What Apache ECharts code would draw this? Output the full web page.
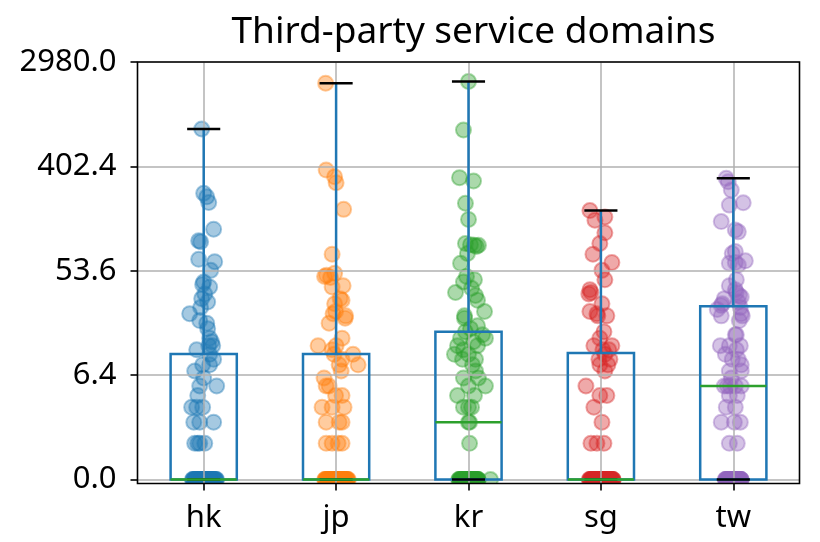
<!DOCTYPE html>
<html>
<head>
<meta charset="utf-8">
<script src="https://cdn.jsdelivr.net/npm/echarts@6/dist/echarts.min.js"></script>
<style>
  html, body { margin: 0; padding: 0; background: #ffffff; }
  #chart { width: 820px; height: 542px; }
</style>
</head>
<body>
<div id="chart"></div>
<script>
// Regions on the x axis
const categories = ['hk', 'jp', 'kr', 'sg', 'tw'];

// Per-site domain counts with their horizontal jitter: [count, jitter]
const hkPoints = [
  [825,-0.015],[240,0.000],[224,0.023],[201,0.038],[120,0.075],[96,-0.038],[94,-0.023],
  [67,-0.038],[64,0.083],[54,0.053],[43,0.000],[41,-0.008],[39,0.045],[34,0.008],
  [31,-0.015],[29,0.030],[26,-0.023],[23,-0.106],[20,-0.030],[19,0.023],[17,0.030],
  [14,0.045],[13,0.060],[12,0.038],[12,0.068],[11,-0.053],[10,0.045],[9,0.075],
  [8,-0.008],[8,0.045],[7,-0.068],[6,0.000],[5,0.098],[5,-0.030],[4,-0.045],
  [3,-0.091],[3,-0.053],[3,-0.008],[2,-0.075],[2,-0.030],[2,0.075],
  [1,-0.068],[1,-0.045],[1,-0.030],[1,0.008]
];
const hkZeros = [
  -0.081,0.012,0.064,-0.027,0.035,-0.058,0.090,-0.004,0.047,-0.072,
  0.021,-0.040,0.079,0.003,-0.015,0.056,-0.063,0.030,0.097,-0.033,
  0.008,-0.050,0.071,0.043,-0.021,0.017,-0.085,0.061,-0.009,0.038,
  0.026,-0.046,0.084,-0.068,0.051,0.005,-0.030,0.069,0.014,-0.055,
  0.093,-0.012,0.034,-0.077,0.058,0.022,-0.036,0.046,0.002,-0.061,
  0.075,0.029,-0.019,0.066,0.040
];

const jpPoints = [
  [1985,-0.079],[375,-0.075],[330,-0.011],[294,0.000],[176,0.057],[74,-0.030],
  [51,-0.011],[49,-0.072],[48,-0.087],[47,-0.042],[40,0.053],[39,-0.030],[31,0.030],
  [30,0.045],[28,-0.011],[24,-0.004],[23,-0.023],[22,0.072],[21,0.068],[19,-0.053],
  [14,0.045],[12,-0.136],[12,0.000],[11,-0.030],[10,0.128],[10,-0.015],[9,0.045],
  [8,0.166],[8,0.023],[7,0.038],[6,-0.091],[5,-0.053],[5,-0.075],[4,-0.004],[4,0.045],
  [3,-0.106],[3,-0.030],[3,0.060],[2,-0.075],[2,0.023],[2,0.045],
  [1,-0.075],[1,-0.030],[1,0.015],[1,0.045]
];
const jpZeros = [
  0.018,-0.066,0.049,-0.012,0.083,-0.041,0.027,-0.079,0.060,0.004,
  -0.028,0.071,-0.055,0.036,-0.006,0.092,-0.034,0.013,-0.070,0.052,
  0.024,-0.047,0.078,-0.019,0.041,-0.086,0.009,0.064,-0.038,0.031,
  -0.060,0.087,-0.002,0.045,-0.024,0.068,-0.074,0.016,0.055,-0.051,
  0.035,-0.014,0.081,-0.063,0.021,0.006,-0.043,0.073,-0.030,0.048,
  -0.082,0.058,0.011,-0.009,0.039
];

const krPoints = [
  [2050,0.000],[809,-0.038],[324,-0.068],[304,0.038],[198,-0.023],[145,0.000],
  [91,-0.023],[89,0.015],[88,0.045],[88,0.075],[86,0.060],[75,-0.008],[62,-0.060],
  [48,-0.015],[45,0.045],[43,-0.038],[38,0.023],[35,-0.098],[33,0.053],[30,0.068],
  [24,0.121],[22,-0.030],[21,-0.030],[18,0.068],[17,0.015],[16,-0.023],[15,0.106],
  [14,-0.060],[14,0.128],[13,0.038],[12,-0.083],[12,0.068],[11,-0.038],[10,-0.106],
  [10,0.000],[9,0.053],[9,-0.045],[8,0.030],[7,0.053],[6,-0.038],[6,0.075],[5,0.000],
  [5,0.128],[4,-0.083],[4,0.045],[3,-0.038],[3,0.023],[3,0.000],[2,0.000],[2,0.008],
  [1,0.008]
];
const krZeros = [
  -0.060,0.022,0.051,-0.031,0.008,-0.074,0.066,-0.013,0.037,-0.049,
  0.015,0.072,-0.024,0.044,-0.066,0.003,0.058,-0.040,0.028,-0.008,
  0.062,-0.055,0.019,-0.035,0.047,0.011,-0.070,0.034,-0.018,0.069,
  -0.045,0.025,0.055,-0.003,-0.062,0.040,0.014,-0.028,0.073,-0.052,
  0.030,-0.010,0.059,-0.038,0.006,0.048,-0.022,0.166
];

const sgPoints = [
  [172,-0.083],[152,0.030],[143,-0.045],[112,0.030],[91,-0.008],[74,-0.060],
  [63,0.083],[54,0.008],[45,0.030],[37,-0.083],[35,-0.075],[34,-0.091],[28,0.008],
  [24,-0.083],[23,-0.030],[22,-0.023],[22,0.045],[16,0.023],[14,-0.008],[12,-0.053],
  [12,0.083],[11,0.015],[11,0.060],[10,0.030],[9,0.068],[9,-0.015],[8,0.053],
  [8,-0.008],[7,0.030],[5,-0.113],[4,-0.008],[4,0.045],[3,-0.053],[2,0.008],
  [1,-0.075],[1,-0.030],[1,0.023]
];
const sgZeros = [
  0.025,-0.071,0.058,-0.019,0.089,-0.046,0.007,0.042,-0.084,0.033,
  -0.029,0.070,-0.058,0.015,0.081,-0.037,-0.004,0.052,-0.077,0.029,
  0.064,-0.052,0.011,-0.022,0.093,-0.065,0.038,0.002,-0.041,0.075,
  -0.013,0.047,-0.088,0.020,0.060,-0.033,0.085,-0.060,0.009,0.035,
  -0.024,0.068,-0.049,0.017,-0.080,0.055,-0.008,0.044,-0.068,0.078,
  0.027,-0.036,0.003,0.062,-0.056,0.091,-0.016,0.040,-0.074,0.013,
  0.050,-0.045,0.072
];

const twPoints = [
  [320,-0.053],[300,-0.038],[255,-0.015],[200,0.075],[191,-0.030],[139,-0.091],
  [118,0.015],[114,0.038],[78,0.015],[75,-0.008],[65,0.091],[63,0.015],[62,-0.030],
  [60,0.038],[45,0.023],[40,-0.030],[37,0.015],[35,0.023],[33,0.045],[32,0.060],
  [31,-0.068],[29,0.038],[28,-0.083],[27,-0.091],[26,0.053],[25,-0.121],[23,0.060],
  [22,0.068],[22,-0.091],[20,0.045],[15,0.023],[15,0.015],[12,-0.098],[12,-0.030],
  [12,0.053],[11,0.023],[10,-0.060],[9,0.038],[9,-0.008],[8,0.060],[7,-0.030],
  [7,0.060],[6,-0.015],[5,-0.068],[5,-0.023],[5,0.015],[5,0.060],[5,-0.045],
  [4,-0.030],[4,0.030],[3,-0.053],[3,0.015],[2,-0.091],[2,0.008],[2,0.053],
  [1,-0.030],[1,0.030]
];
const twZeros = [
  -0.043,0.018,0.051,-0.012,0.034,-0.058,0.006,0.045,-0.027,0.060,
  -0.036,0.024,-0.005,0.041,-0.050,0.012,0.055,-0.020,0.030,-0.061,
  0.003,0.048,-0.032,0.020,-0.046,0.057,-0.015,0.037,-0.055,0.009,
  0.027,-0.039,0.052,-0.008,0.016,-0.024,0.043,-0.052,0.033,0.000,
  -0.030,0.058
];

// Box statistics per region (counts): whisker low, Q1, median, Q3, whisker high
const boxLow    = [0, 0, 0, 0, 0];
const boxQ1     = [0, 0, 0, 0, 0];
const boxMedian = [0, 0, 2, 0, 5];
const boxQ3     = [10.05, 10.05, 16, 10.3, 26.7];
const boxHigh   = [825, 1985, 2050, 172, 320];

// y axis: log(1 + count), ticks every 2 units
const yTickValues = [0, 2, 4, 6, 8];
const yTickLabels = ['0.0', '6.4', '53.6', '402.4', '2980.0'];

const pointColors = ['#1f77b4', '#ff7f0e', '#2ca02c', '#d62728', '#9467bd'];
const BOX_COLOR = '#1f77b4';
const MEDIAN_COLOR = '#2ca02c';
const CAP_COLOR = '#000000';
const GRID_COLOR = '#b0b0b0';
const FONT = '"Noto Sans", sans-serif';

const W = 820, H = 542;
const PLOT_LEFT = 137.5, PLOT_RIGHT = 20.5, PLOT_TOP = 62;
const FRAME_BOTTOM = 58.5;   // bottom spine
const ZERO_BOTTOM = 62.5;    // level of count 0
const Y_MAX = 8;
// the frame extends a little below zero
const frameMin = -Y_MAX * (ZERO_BOTTOM - FRAME_BOTTOM) / (H - PLOT_TOP - ZERO_BOTTOM);

const groups = [
  [hkPoints, hkZeros], [jpPoints, jpZeros], [krPoints, krZeros],
  [sgPoints, sgZeros], [twPoints, twZeros]
];

function pointRenderer(color) {
  return function (params, api) {
    const p = api.coord([api.value(0), api.value(1)]);
    return {
      type: 'circle',
      shape: { cx: p[0], cy: p[1], r: 7.5 },
      style: { fill: color, stroke: color, lineWidth: 2, opacity: 0.4 }
    };
  };
}

function boxRenderer(params, api) {
  const x = api.value(0);
  const lo = api.value(1), q1 = api.value(2), med = api.value(3),
        q3 = api.value(4), hi = api.value(5);
  const half = 0.25, capHalf = 0.125, lw = 2.5;
  const c = (xv, yv) => api.coord([xv, yv]);
  const seg = (a, b, color) => ({
    type: 'line',
    shape: { x1: a[0], y1: a[1], x2: b[0], y2: b[1] },
    style: { stroke: color, lineWidth: lw, lineCap: 'butt' }
  });
  const tl = c(x - half, q3), br = c(x + half, q1);
  return {
    type: 'group',
    children: [
      { type: 'rect',
        shape: { x: tl[0], y: tl[1], width: br[0] - tl[0], height: br[1] - tl[1] },
        style: { fill: 'none', stroke: BOX_COLOR, lineWidth: lw } },
      seg(c(x, q1), c(x, lo), BOX_COLOR),
      seg(c(x, q3), c(x, hi), BOX_COLOR),
      seg(c(x - capHalf, lo), c(x + capHalf, lo), CAP_COLOR),
      seg(c(x - capHalf, hi), c(x + capHalf, hi), CAP_COLOR),
      seg(c(x - half, med), c(x + half, med), MEDIAN_COLOR)
    ]
  };
}

const pointSeries = groups.map(([pts, zeros], i) => ({
  type: 'custom',
  name: categories[i],
  xAxisIndex: 1,
  yAxisIndex: 0,
  z: 1,
  clip: true,
  silent: true,
  renderItem: pointRenderer(pointColors[i]),
  data: pts.map(([v, j]) => [i + j, Math.log1p(v)])
        .concat(zeros.map(j => [i + j, 0]))
}));

const boxSeries = {
  type: 'custom',
  xAxisIndex: 1,
  yAxisIndex: 0,
  z: 3,
  silent: true,
  renderItem: boxRenderer,
  data: categories.map((_, i) => [
    i, Math.log1p(boxLow[i]), Math.log1p(boxQ1[i]), Math.log1p(boxMedian[i]),
    Math.log1p(boxQ3[i]), Math.log1p(boxHigh[i])
  ])
};

const chart = echarts.init(document.getElementById('chart'), null, { renderer: 'canvas' });
chart.setOption({
  animation: false,
  backgroundColor: '#ffffff',
  title: {
    text: 'Third-party service domains',
    left: PLOT_LEFT + (W - PLOT_LEFT - PLOT_RIGHT) / 2,
    textAlign: 'center',
    top: 9,
    textStyle: { fontFamily: FONT, fontSize: 37, fontWeight: 'normal', color: '#000' }
  },
  grid: [
    { left: PLOT_LEFT, right: PLOT_RIGHT, top: PLOT_TOP, bottom: FRAME_BOTTOM,
      show: true, borderColor: '#000', borderWidth: 1.6, backgroundColor: 'transparent', z: 4 },
    { left: PLOT_LEFT, right: PLOT_RIGHT, top: PLOT_TOP, bottom: ZERO_BOTTOM, show: false }
  ],
  xAxis: [
    { type: 'category', gridIndex: 0, data: categories, boundaryGap: true, z: 2,
      position: 'bottom',
      axisLine: { show: false, onZero: false },
      axisTick: { show: true, alignWithLabel: true, length: 7,
                  lineStyle: { color: '#000', width: 1.6 } },
      axisLabel: { color: '#000', fontFamily: FONT, fontSize: 31, margin: 19 },
      splitLine: { show: true, alignWithLabel: true, lineStyle: { color: GRID_COLOR, width: 1.5 } } },
    { type: 'value', gridIndex: 0, min: -0.5, max: categories.length - 0.5, show: false,
      axisLine: { onZero: false } },
    { type: 'value', gridIndex: 1, min: -0.5, max: categories.length - 0.5, show: false,
      axisLine: { onZero: false } }
  ],
  yAxis: [
    { type: 'value', gridIndex: 0, min: frameMin, max: Y_MAX, show: false,
      axisLine: { onZero: false } },
    { type: 'value', gridIndex: 1, min: 0, max: Y_MAX, interval: 2, z: 2,
      position: 'left',
      axisLine: { show: false, onZero: false },
      axisTick: { show: true, length: 7, lineStyle: { color: '#000', width: 1.6 } },
      axisLabel: { color: '#000', fontFamily: FONT, fontSize: 31, margin: 21,
                   formatter: v => yTickLabels[yTickValues.indexOf(v)] },
      splitLine: { show: true, lineStyle: { color: GRID_COLOR, width: 1.5 } } }
  ],
  series: pointSeries.concat([boxSeries])
});
</script>
</body>
</html>
